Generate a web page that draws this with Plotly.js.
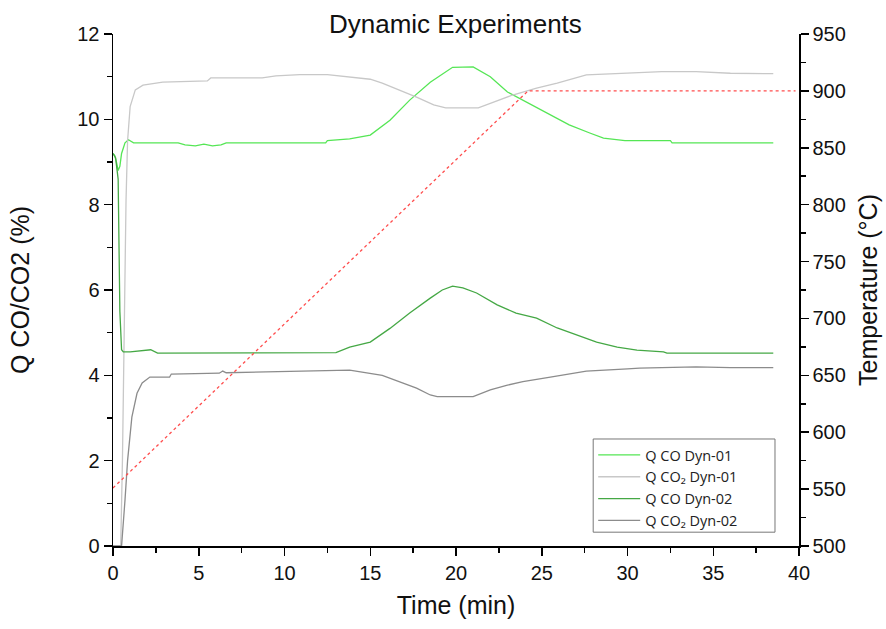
<!DOCTYPE html>
<html><head><meta charset="utf-8">
<script src="https://cdn.plot.ly/plotly-3.0.1.min.js"></script>
<style>body{margin:0;background:#fff}#c{width:886px;height:629px}</style>
</head><body><div id="c"></div>
<script>
const seriesNames = ["Q CO Dyn-01", "Q CO\u2082 Dyn-01", "Q CO Dyn-02", "Q CO\u2082 Dyn-02"];

const tCO1 = [0, 0.1, 0.2, 0.3, 0.4, 0.5, 0.7, 0.9, 1.2, 2, 3.8, 4.2, 4.8, 5.3, 5.8, 6.3, 6.6, 12.4, 12.5, 13.8, 15, 16.15, 17.3, 18.5, 19.5, 19.8, 21.0, 22.0, 23.0, 24.1, 25.5, 26.6, 27.8, 28.6, 29.85, 32.5, 32.6, 38.5];
const vCO1 = [9.2, 9.15, 9.0, 8.8, 8.9, 9.2, 9.45, 9.52, 9.45, 9.45, 9.45, 9.4, 9.38, 9.42, 9.38, 9.4, 9.45, 9.45, 9.5, 9.54, 9.63, 9.98, 10.45, 10.87, 11.15, 11.22, 11.23, 11.0, 10.64, 10.4, 10.1, 9.87, 9.68, 9.56, 9.5, 9.5, 9.45, 9.45];

const tCO2_1 = [0, 0.45, 0.55, 0.65, 0.76, 0.85, 1.0, 1.3, 1.75, 2.9, 5.5, 5.7, 8.7, 9.5, 10.9, 12.5, 13.8, 15, 15.7, 16.7, 17.7, 18.7, 19.4, 21.3, 22.2, 23.3, 24.7, 25.9, 27.6, 29.4, 31, 32, 34, 36, 38.5];
const vCO2_1 = [0, 0, 2, 5.5, 8.1, 9.5, 10.3, 10.69, 10.8, 10.87, 10.9, 10.97, 10.97, 11.02, 11.05, 11.05, 10.99, 10.94, 10.85, 10.69, 10.52, 10.34, 10.27, 10.27, 10.4, 10.57, 10.73, 10.85, 11.04, 11.08, 11.1, 11.12, 11.12, 11.08, 11.07];

const tCO2 = [0, 0.15, 0.3, 0.4, 0.5, 0.6, 1.0, 2.2, 2.6, 13, 13.8, 15, 16.15, 17.3, 18.5, 19.2, 19.8, 20.4, 21.2, 22.4, 23.5, 24.7, 25.9, 27.05, 28.2, 29.4, 30.55, 32.1, 32.3, 38.5];
const vCO2 = [9.2, 9.1, 8.6, 5.5, 4.6, 4.55, 4.55, 4.6, 4.52, 4.53, 4.66, 4.78, 5.1, 5.46, 5.81, 6.0, 6.09, 6.05, 5.93, 5.65, 5.46, 5.34, 5.11, 4.94, 4.78, 4.66, 4.59, 4.55, 4.52, 4.52];

const tCO2_2 = [0, 0.5, 0.7, 0.85, 1.1, 1.4, 1.7, 2.15, 3.3, 3.4, 6.2, 6.4, 6.6, 13, 13.8, 15.7, 16.7, 17.7, 18.5, 18.9, 21, 22, 23, 23.9, 25.5, 26.5, 27.6, 30, 30.7, 32, 34, 36, 38.5];
const vCO2_2 = [0, 0, 1.08, 2.0, 3.02, 3.58, 3.82, 3.96, 3.96, 4.03, 4.05, 4.1, 4.06, 4.1, 4.12, 4.0, 3.85, 3.7, 3.54, 3.5, 3.5, 3.66, 3.77, 3.85, 3.96, 4.03, 4.1, 4.15, 4.17, 4.18, 4.2, 4.18, 4.18];

const tTemp = [0, 24.2, 39.8];
const vTemp = [551, 900, 900];

const colors = ["#55e655", "#c8c8c8", "#45a845", "#8c8c8c"];

const traces = [
  {x: tCO1, y: vCO1, name: seriesNames[0], mode: "lines", line: {color: colors[0], width: 1.3}},
  {x: tCO2_1, y: vCO2_1, name: seriesNames[1], mode: "lines", line: {color: colors[1], width: 1.3}},
  {x: tCO2, y: vCO2, name: seriesNames[2], mode: "lines", line: {color: colors[2], width: 1.3}},
  {x: tCO2_2, y: vCO2_2, name: seriesNames[3], mode: "lines", line: {color: colors[3], width: 1.3}},
  {x: tTemp, y: vTemp, name: "Temperature", yaxis: "y2", mode: "lines", showlegend: false, line: {color: "#ff4d4d", width: 1.3, dash: "dot"}}
];

const tickFont = {family: "Liberation Sans, Arial, sans-serif", size: 20, color: "#111"};
const titleFont = {family: "Liberation Sans, Arial, sans-serif", size: 25, color: "#111"};

const layout = {
  width: 886, height: 629,
  margin: {l: 113, r: 87, t: 34, b: 83},
  paper_bgcolor: "#fff", plot_bgcolor: "#fff",
  title: {text: "Dynamic Experiments", font: {family: "Liberation Sans, Arial, sans-serif", size: 26, color: "#111"}, x: 0.514, xanchor: "center", y: 0.962, yanchor: "middle"},
  showlegend: true,
  legend: {x: 0.70, y: 0.209, xanchor: "left", yanchor: "top", bgcolor: "rgba(0,0,0,0)", borderwidth: 0,
           font: {family: "Open Sans, sans-serif", size: 14.5, color: "#222"}, itemwidth: 42, tracegroupgap: 0},
  shapes: [{type: "rect", xref: "paper", yref: "paper", x0: 0.70, x1: 0.965, y0: 0.027, y1: 0.209,
            line: {color: "#777", width: 1}, fillcolor: "rgba(255,255,255,0)", layer: "above"}],
  xaxis: {range: [0, 40], dtick: 5, tick0: 0, showgrid: false, zeroline: false, showline: true, linecolor: "#000", linewidth: 1.5,
          ticks: "outside", ticklen: 8, tickwidth: 1.5, tickcolor: "#000", tickfont: tickFont,
          minor: {dtick: 2.5, ticks: "outside", ticklen: 5, tickwidth: 1.5, tickcolor: "#000", showgrid: false},
          title: {text: "Time (min)", font: titleFont, standoff: 14}},
  yaxis: {range: [0, 12], dtick: 2, tick0: 0, showgrid: false, zeroline: false, showline: true, linecolor: "#000", linewidth: 1.5,
          ticks: "outside", ticklen: 8, tickwidth: 1.5, tickcolor: "#000", tickfont: tickFont,
          minor: {dtick: 1, ticks: "outside", ticklen: 5, tickwidth: 1.5, tickcolor: "#000", showgrid: false},
          title: {text: "Q CO/CO2 (%)", font: titleFont, standoff: 40}},
  yaxis2: {range: [500, 950], dtick: 50, tick0: 500, overlaying: "y", side: "right", showgrid: false, zeroline: false, showline: true,
           linecolor: "#000", linewidth: 1.5, ticks: "outside", ticklen: 8, tickwidth: 1.5, tickcolor: "#000", tickfont: tickFont,
           minor: {dtick: 25, ticks: "outside", ticklen: 5, tickwidth: 1.5, tickcolor: "#000", showgrid: false},
           title: {text: "Temperature (\u00b0C)", font: titleFont, standoff: 14}}
};

Plotly.newPlot("c", traces, layout, {displayModeBar: false, staticPlot: true});
</script></body></html>
